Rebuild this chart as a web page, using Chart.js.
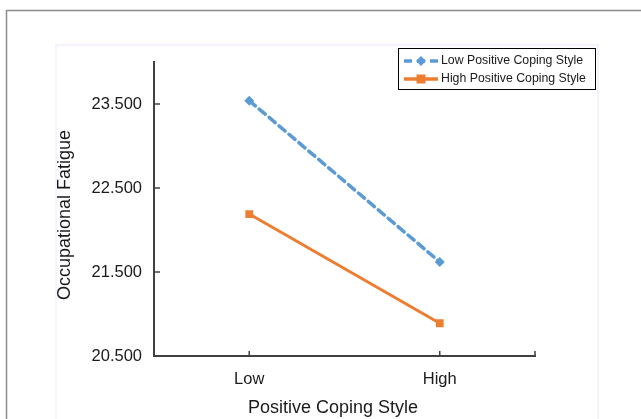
<!DOCTYPE html>
<html>
<head>
<meta charset="utf-8">
<script src="https://cdn.jsdelivr.net/npm/chart.js@4/dist/chart.umd.min.js"></script>
<style>
  html, body { margin: 0; padding: 0; background: #fff; }
  #wrap { width: 641px; height: 419px; }
</style>
</head>
<body>
<div id="wrap"><canvas id="fatigue-chart" width="641" height="419"></canvas></div>
<script>
var categories = ['Low', 'High'];
var lowCopingValues = [23.54, 21.62];
var highCopingValues = [22.19, 20.89];
var seriesNames = ['Low Positive Coping Style', 'High Positive Coping Style'];
var yTicks = [20.5, 21.5, 22.5, 23.5];

var FONT = '"Liberation Sans", Arial, sans-serif';
var BLUE = '#5b9bd5';
var ORANGE = '#ed7d31';
var AXIS = '#404040';

// frame, inward tick marks, axis titles and the boxed legend
var decorPlugin = {
  id: 'decor',
  beforeDraw: function (chart) {
    var ctx = chart.ctx;
    ctx.save();
    ctx.fillStyle = '#fff';
    ctx.fillRect(0, 0, chart.width, chart.height);
    ctx.strokeStyle = '#8c8c8c';
    ctx.lineWidth = 1.5;
    ctx.beginPath();
    ctx.moveTo(6.5, 419);
    ctx.lineTo(6.5, 10.5);
    ctx.lineTo(641, 10.5);
    ctx.stroke();
    ctx.strokeStyle = '#f6f1fc';
    ctx.lineWidth = 2;
    ctx.beginPath();
    ctx.moveTo(56, 419);
    ctx.lineTo(56, 45);
    ctx.lineTo(598, 45);
    ctx.lineTo(598, 419);
    ctx.stroke();
    ctx.restore();
  },
  afterDraw: function (chart) {
    var ctx = chart.ctx;
    var x = chart.scales.x, y = chart.scales.y;
    var area = chart.chartArea;
    ctx.save();
    ctx.strokeStyle = AXIS;
    ctx.lineWidth = 1.5;
    ctx.beginPath();
    y.ticks.forEach(function (t, i) {
      if (i === 0) return;
      var py = y.getPixelForTick(i);
      ctx.moveTo(area.left, py);
      ctx.lineTo(area.left + 6, py);
    });
    x.ticks.forEach(function (t, i) {
      var px = x.getPixelForTick(i);
      ctx.moveTo(px, area.bottom);
      ctx.lineTo(px, area.bottom - 5);
    });
    ctx.moveTo(area.right, area.bottom);
    ctx.lineTo(area.right, area.bottom - 5);
    ctx.stroke();

    // axis titles
    ctx.fillStyle = '#1a1a1a';
    ctx.font = '18px ' + FONT;
    ctx.textAlign = 'center';
    ctx.textBaseline = 'middle';
    ctx.fillText('Positive Coping Style', 333, 408);
    ctx.translate(65, 215);
    ctx.rotate(-Math.PI / 2);
    ctx.fillText('Occupational Fatigue', 0, 0);
    ctx.setTransform(1, 0, 0, 1, 0, 0);

    // legend
    ctx.strokeStyle = '#000';
    ctx.lineWidth = 1;
    ctx.strokeRect(398.5, 48.5, 197, 41);
    var rows = [61, 79];
    chart.data.datasets.forEach(function (ds, i) {
      var ry = rows[i];
      ctx.strokeStyle = ds.borderColor;
      ctx.lineWidth = 3.5;
      ctx.setLineDash(ds.borderDash || []);
      ctx.beginPath();
      ctx.moveTo(404, ry);
      ctx.lineTo(438, ry);
      ctx.stroke();
      ctx.setLineDash([]);
      ctx.fillStyle = ds.borderColor;
      if (ds.pointStyle === 'rectRot') {
        ctx.beginPath();
        ctx.moveTo(421, ry - 5);
        ctx.lineTo(426, ry);
        ctx.lineTo(421, ry + 5);
        ctx.lineTo(416, ry);
        ctx.closePath();
        ctx.fill();
      } else {
        ctx.fillRect(416.5, ry - 4.5, 9, 9);
      }
      ctx.fillStyle = '#1a1a1a';
      ctx.font = '12.3px ' + FONT;
      ctx.textAlign = 'left';
      ctx.fillText(ds.label, 441, ry);
    });
    ctx.restore();
  }
};

var config = {
  type: 'line',
  data: {
    labels: categories,
    datasets: [{
      label: seriesNames[0],
      data: lowCopingValues,
      borderColor: BLUE,
      backgroundColor: BLUE,
      borderWidth: 3.5,
      borderDash: [8, 5],
      borderCapStyle: 'round',
      pointStyle: 'rectRot',
      pointRadius: 5,
      pointBorderWidth: 0,
      fill: false,
      tension: 0
    }, {
      label: seriesNames[1],
      data: highCopingValues,
      borderColor: ORANGE,
      backgroundColor: ORANGE,
      borderWidth: 3,
      pointStyle: 'rect',
      pointRadius: 5.5,
      pointBorderWidth: 0,
      fill: false,
      tension: 0
    }]
  },
  options: {
    responsive: false,
    animation: false,
    layout: {
      padding: { left: 0, top: 62, right: 106, bottom: 0 }
    },
    plugins: {
      legend: { display: false },
      tooltip: { enabled: false }
    },
    scales: {
      x: {
        type: 'category',
        offset: true,
        afterFit: function (scale) { scale.height = 63; },
        grid: { drawOnChartArea: false, drawTicks: false },
        border: { color: AXIS, width: 2 },
        ticks: {
          padding: 14,
          color: '#1a1a1a',
          font: { family: FONT, size: 16.5 }
        }
      },
      y: {
        min: 20.5,
        max: 24.0,
        afterFit: function (scale) { scale.width = 154; },
        afterBuildTicks: function (scale) {
          scale.ticks = yTicks.map(function (v) { return { value: v }; });
        },
        grid: { drawOnChartArea: false, drawTicks: false },
        border: { color: AXIS, width: 2 },
        ticks: {
          padding: 12,
          color: '#1a1a1a',
          font: { family: FONT, size: 16.5 },
          callback: function (v) { return Number(v).toFixed(3); }
        }
      }
    }
  },
  plugins: [decorPlugin]
};

window.onload = function () {
  var ctx = document.getElementById('fatigue-chart').getContext('2d');
  window.fatigueChart = new Chart(ctx, config);
};
</script>
</body>
</html>
